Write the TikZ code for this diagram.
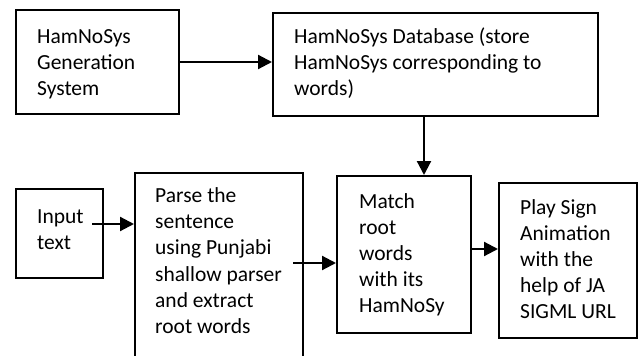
\documentclass[tikz,border=0pt]{standalone}
\usepackage{fontspec}
\setmainfont{Carlito}
\usetikzlibrary{arrows.meta}
\begin{document}
\begin{tikzpicture}[x=1pt,y=-1pt,
  box/.style={draw,line width=2.2pt,rectangle,inner sep=0pt,anchor=north west},
  txt/.style={anchor=base west,inner sep=0pt,align=left,font=\fontsize{21.5}{26.1}\selectfont},
  arr/.style={line width=2.2pt,-{Triangle[length=14pt,width=14pt]}}]
\useasboundingbox (0,0) rectangle (638,356);
\begin{scope}
\clip (0,0) rectangle (638,356);
\node[box,minimum width=163pt,minimum height=104pt] (gen) at (15,9) {};
\node[box,minimum width=325pt,minimum height=103pt] (db) at (272,12) {};
\node[box,minimum width=87pt,minimum height=89pt] (inp) at (15,188) {};
\node[box,minimum width=168pt,minimum height=200pt] (parse) at (134,172) {};
\node[box,minimum width=134pt,minimum height=157pt] (match) at (336,175) {};
\node[box,minimum width=138pt,minimum height=155pt] (play) at (498,182) {};
\end{scope}
% anchors are at the baseline of the last line
\node[txt] (tgen) at (37,95.2) {HamNoSys\\Generation\\System};
\node[txt] (tdb) at (294,95.2) {HamNoSys Database (store\\HamNoSys corresponding to\\words)};
\node[txt] (tinp) at (37,249.5) {Input\\text};
\node[txt] (tparse) at (155,333.2) {Parse the\\sentence\\using Punjabi\\shallow parser\\and extract\\root words};
\node[txt] (tmatch) at (359,312.4) {Match\\root\\words\\with its\\HamNoSy};
\node[txt] (tplay) at (520,318.4) {Play Sign\\Animation\\with the\\help of JA\\SIGML URL};
\coordinate (a1) at (92,224);
\coordinate (a2) at (293,263);
\draw[arr] (gen.east |- 0,62) -- (db.west |- 0,62);
\draw[arr] (db.south -| 424,0) -- (match.north -| 424,0);
\draw[arr] (a1) -- (parse.west |- a1);
\draw[arr] (a2) -- (match.west |- a2);
\draw[arr] (match.east |- 0,249) -- (play.west |- 0,249);
\end{tikzpicture}
\end{document}
